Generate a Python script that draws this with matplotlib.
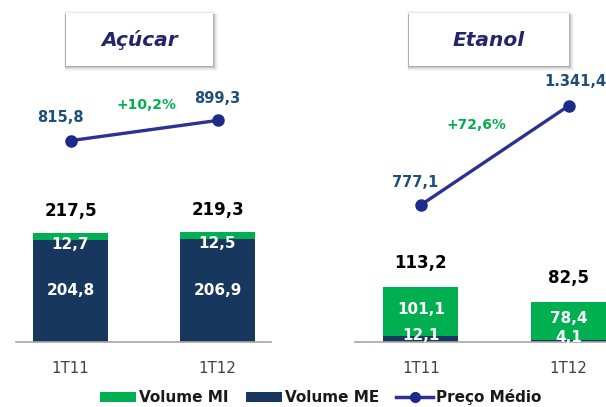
import matplotlib
matplotlib.use("Agg")
import matplotlib.pyplot as plt
from matplotlib.patches import Rectangle, Patch
from matplotlib.lines import Line2D

# ---------------- data ----------------
categories = ["1T11", "1T12"]

acucar_mi = [12.7, 12.5]
acucar_me = [204.8, 206.9]
acucar_total = [217.5, 219.3]
acucar_preco = [815.8, 899.3]
acucar_var = "+10,2%"

etanol_mi = [101.1, 78.4]
etanol_me = [12.1, 4.1]
etanol_total = [113.2, 82.5]
etanol_preco = [777.1, 1341.4]
etanol_var = "+72,6%"

titles = ["Açúcar", "Etanol"]
legend_labels = ["Volume MI", "Volume ME", "Preço Médio"]

# ---------------- style ----------------
GREEN = "#00B050"
NAVY = "#17375E"
LINE = "#2E3092"
MARK = "#1C2A89"
PRICE_TXT = "#1F4E79"
PCT_TXT = "#00B050"
TITLE_TXT = "#24246B"
AXIS = "#A6A6A6"
CAT_TXT = "#404040"

plt.rcParams["font.family"] = ["DejaVu Sans"]

W, H = 606, 407
fig = plt.figure(figsize=(W / 100, H / 100), dpi=100)
fig.patch.set_facecolor("white")


def fx(x):
    return x / W


def fy(y):
    return 1 - y / H


def fmt(v):
    s = f"{v:,.1f}"
    return s.replace(",", "X").replace(".", ",").replace("X", ".")


BASE = 342
TOP = 60

panels = [
    dict(mi=acucar_mi, me=acucar_me, total=acucar_total, preco=acucar_preco, var=acucar_var,
         left=16, right=271, xlim=(-0.371, 1.364), width=0.51, ybar=564, yprice=(-16, 1149),
         tot_off=16, me_off=0, mi_off=-6,
         price_off=[(-7, 16.5), (0, 16)], var_off=(1.5, 18.5),
         title=titles[0], box=(66, 13, 213, 66)),
    dict(mi=etanol_mi, me=etanol_me, total=etanol_total, preco=etanol_preco, var=etanol_var,
         left=355, right=606, xlim=(-0.447, 1.254), width=0.508, ybar=575.5, yprice=(-4, 1603),
         tot_off=17, me_off=2.5, mi_off=1.5,
         price_off=[(-4, 16), (5, 17.5)], var_off=(-13, 22),
         title=titles[1], box=(409, 13, 569, 66)),
]

x = list(range(len(categories)))


def add_rect(x0, y0, x1, y1, **kw):
    fig.patches.append(Rectangle((fx(x0), fy(y1)), (x1 - x0) / W, (y1 - y0) / H,
                                 transform=fig.transFigure, **kw))


for p in panels:
    ax = fig.add_axes([fx(p["left"]), fy(BASE), fx(p["right"]) - fx(p["left"]), (BASE - TOP) / H])
    ax.set_xlim(*p["xlim"])
    ax.set_ylim(0, p["ybar"])
    for s in ["top", "left", "right"]:
        ax.spines[s].set_visible(False)
    ax.spines["bottom"].set_color(AXIS)
    ax.spines["bottom"].set_linewidth(1.2)
    ax.set_yticks([])
    ax.set_xticks(x)
    ax.set_xticklabels(categories, fontsize=10.8, color=CAT_TXT)
    ax.tick_params(axis="x", length=0, pad=14)
    ax.patch.set_alpha(0)

    ax.bar(x, p["me"], width=p["width"], color=NAVY, zorder=2)
    ax.bar(x, p["mi"], bottom=p["me"], width=p["width"], color=GREEN, zorder=2)

    for i in x:
        ax.annotate(fmt(p["total"][i]), (i, p["total"][i]), xytext=(0, p["tot_off"]),
                    textcoords="offset points", ha="center", va="center",
                    fontsize=12, fontweight="bold", color="black")
        ax.annotate(fmt(p["me"][i]), (i, p["me"][i] / 2), xytext=(0, p["me_off"]),
                    textcoords="offset points", ha="center", va="center",
                    fontsize=11, fontweight="bold", color="white", zorder=5)
        ax.annotate(fmt(p["mi"][i]), (i, p["me"][i] + p["mi"][i] / 2), xytext=(0, p["mi_off"]),
                    textcoords="offset points", ha="center", va="center",
                    fontsize=11, fontweight="bold", color="white", zorder=5)

    ax2 = ax.twinx()
    ax2.set_ylim(*p["yprice"])
    ax2.axis("off")
    ax2.plot(x, p["preco"], color=LINE, lw=2.4, marker="o", ms=8,
             mfc=MARK, mec=MARK, zorder=4)
    for i in x:
        ax2.annotate(fmt(p["preco"][i]), (i, p["preco"][i]), xytext=p["price_off"][i],
                     textcoords="offset points", ha="center", va="center",
                     fontsize=10.5, fontweight="bold", color=PRICE_TXT)
    mid_y = sum(p["preco"]) / 2
    ax2.annotate(p["var"], (0.5, mid_y), xytext=p["var_off"], textcoords="offset points",
                 ha="center", va="center", fontsize=10, fontweight="bold", color=PCT_TXT)

    # title box with soft shadow (mostly down-right, faint all round)
    x0, y0, x1, y1 = p["box"]
    for d, a in [(2, 0.035), (1, 0.05)]:
        add_rect(x0 - d, y0 - d, x1 + d, y1 + d, facecolor="black", edgecolor="none",
                 alpha=a, zorder=0)
    for d, a in [(5, 0.03), (4, 0.04), (3, 0.05), (2, 0.07), (1, 0.08)]:
        add_rect(x0 - 1, y0 + 1, x1 + d, y1 + d, facecolor="black", edgecolor="none",
                 alpha=a, zorder=0)
    add_rect(x0, y0, x1, y1, facecolor="white", edgecolor="none", zorder=1)
    fig.text(fx((x0 + x1) / 2), fy((y0 + y1) / 2 + 1), p["title"], ha="center", va="center",
             fontsize=14.5, fontweight="bold", style="italic", color=TITLE_TXT, zorder=3)

handles = [
    Patch(facecolor=GREEN, edgecolor="none"),
    Patch(facecolor=NAVY, edgecolor="none"),
    Line2D([0], [0], color=LINE, lw=2.5, marker="o", ms=7, mfc=MARK, mec=MARK),
]
fig.legend(handles, legend_labels, loc="center", bbox_to_anchor=(fx(320.5), fy(397)),
           ncol=3, frameon=False, prop={"size": 11, "weight": "bold"},
           labelcolor="#1a1a1a", handlelength=2.4, handleheight=0.65,
           handletextpad=0.2, columnspacing=1.1)

fig.savefig("out.png", dpi=100, facecolor="white")
